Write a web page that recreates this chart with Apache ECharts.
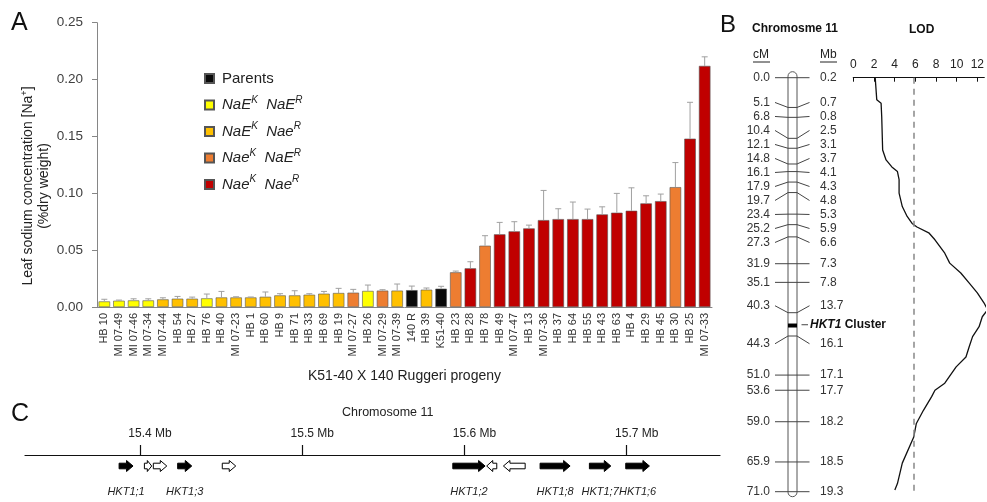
<!DOCTYPE html>
<html><head><meta charset="utf-8">
<script src="https://cdn.jsdelivr.net/npm/echarts@6/dist/echarts.min.js"></script>
<style>html,body{margin:0;padding:0;background:#fff}#c{width:987px;height:502px}</style>
</head><body><div id="c"></div>
<script>
// ---------- Panel A data ----------
const lines = ['HB 10','MI 07-49','MI 07-46','MI 07-34','MI 07-44','HB 54','HB 27','HB 76','HB 40','MI 07-23','HB 1','HB 60','HB 9','HB 71','HB 33','HB 69','HB 19','MI 07-27','HB 26','MI 07-29','MI 07-39','140 R','HB 39','K51-40','HB 23','HB 28','HB 78','HB 49','MI 07-47','HB 13','MI 07-36','HB 37','HB 64','HB 55','HB 43','HB 63','HB 4','HB 29','HB 45','HB 30','HB 25','MI 07-33'];
const sodium = [0.0049,0.0055,0.0058,0.0058,0.0067,0.0073,0.0073,0.0076,0.0084,0.0084,0.0084,0.0090,0.0102,0.0102,0.0108,0.0117,0.0123,0.0126,0.0141,0.0144,0.0144,0.0148,0.0152,0.0161,0.0305,0.0340,0.0539,0.0639,0.0665,0.0691,0.0764,0.0773,0.0773,0.0773,0.0814,0.0829,0.0846,0.0911,0.0931,0.1054,0.1480,0.2120];
const sodiumErr = [0.0019,0.0006,0.0014,0.0014,0.0014,0.0020,0.0014,0.0038,0.0053,0.0006,0.0004,0.0042,0.0015,0.0041,0.0009,0.0020,0.0041,0.0029,0.0052,0.0008,0.0058,0.0036,0.0015,0.0021,0.0011,0.0058,0.0088,0.0105,0.0085,0.0029,0.0261,0.0091,0.0150,0.0088,0.0067,0.0170,0.0202,0.0067,0.0062,0.0216,0.0320,0.0080];
// genotype group per line: 0 Parents, 1 NaE/NaE, 2 NaE/Nae, 3 Nae/NaE, 4 Nae/Nae
const genotype = [1,1,1,1,2,2,2,1,2,2,2,2,2,2,2,2,2,3,1,3,2,0,2,0,3,4,3,4,4,4,4,4,4,4,4,4,4,4,4,3,4,4];
const groupNames = ['Parents','NaE/NaE','NaE/Nae','Nae/NaE','Nae/Nae'];
const groupLabels = ['{n|Parents}','{i|NaE}{s|K}{i|  NaE}{s|R}','{i|NaE}{s|K}{i|  Nae}{s|R}','{i|Nae}{s|K}{i|  NaE}{s|R}','{i|Nae}{s|K}{i|  Nae}{s|R}'];
const groupColors = ['#0a0a0a','#ffff00','#ffc000','#ed7d31','#c00000'];
const yTicksA = [0, 0.25, 0.05];

// ---------- Panel B data ----------
const markerCM = [0.0,5.1,6.8,10.4,12.1,14.8,16.1,17.9,19.7,23.4,25.2,27.3,31.9,35.1,40.3,44.3,51.0,53.6,59.0,65.9,71.0];
const markerMb = ['0.2','0.7','0.8','2.5','3.1','3.7','4.1','4.3','4.8','5.3','5.9','6.6','7.3','7.8','13.7','16.1','17.1','17.7','18.2','18.5','19.3'];
const hktClusterCM = 42.5;
const lodCM = [0,3.8,4.4,6.7,12.4,14.1,15.3,16.1,17.5,19.8,22.1,23.8,25.0,25.6,26.6,27.8,30.1,31.8,33.5,35.2,36.9,38.6,39.8,41.0,42.7,44.4,46.1,47.9,49.6,52.4,53.6,54.7,57.0,59.3,61.6,66.1,69.6,70.7];
const lodValue = [2.12,2.27,2.69,2.75,2.84,3.17,3.73,4.27,4.43,4.43,4.74,5.21,5.69,6.16,7.3,7.9,8.85,9.33,10.4,11.2,12.0,12.64,13.0,12.48,12.17,11.54,11.22,10.9,9.95,8.85,7.9,7.58,6.8,6.1,5.85,4.74,4.27,4.02];
const lodThreshold = 5.85;
const lodTicks = [0, 12.67, 2];

// ---------- Panel C data ----------
const geneStart = [15.3871,15.4027,15.4082,15.4232,15.4507,15.5928,15.6137,15.6240,15.6466,15.6770,15.6994];
const geneEnd   = [15.3957,15.4072,15.4165,15.4319,15.4590,15.6127,15.6199,15.6374,15.6651,15.6902,15.7140];
const geneStrand = [1,1,1,1,1,1,-1,-1,1,1,1];
const geneIsHKT = [1,0,0,1,0,1,0,0,1,1,1];
const geneNames = ['HKT1;1','','','HKT1;3','','HKT1;2','','','HKT1;8','HKT1;7','HKT1;6'];
const mbTicks = [15.4,15.5,15.6,15.7];
const mbRange = [15.3291, 15.7575];

// ---------- layout ----------
const FF = '"Liberation Sans", Arial, sans-serif';
const chart = echarts.init(document.getElementById('c'), null, {renderer:'canvas'});

const bGrid = {left:853.3, top:77.7, width:133.7, height:414};
const pxPerCM = bGrid.height / 71;
const items = [];
markerCM.forEach((c,i)=>{ items.push({cM:c, left:c.toFixed(1), right:markerMb[i], hkt:false}); if (i===14) items.push({cM:hktClusterCM, hkt:true}); });
const gaps = items.slice(0,-1).map((it,k)=> (it.hkt||items[k+1].hkt) ? 19/pxPerCM : 14/pxPerCM);
function spread(pos){
  function lay(c){ const offs=[0]; for(let k=c.i0;k<c.i1;k++) offs.push(offs[offs.length-1]+gaps[k]);
    let mt=0, mo=0; for(let k=c.i0;k<=c.i1;k++){ mt+=pos[k]; mo+=offs[k-c.i0]; }
    const n=c.i1-c.i0+1; c.top=mt/n-mo/n; c.offs=offs; return c; }
  let cl = pos.map((p,i)=>lay({i0:i,i1:i}));
  let merged=true;
  while(merged){ merged=false;
    for(let j=0;j<cl.length-1;j++){ const a=cl[j], b=cl[j+1];
      if (b.top - (a.top + a.offs[a.offs.length-1]) < gaps[a.i1]-1e-9){ cl.splice(j,2,lay({i0:a.i0,i1:b.i1})); merged=true; break; } } }
  const out=[]; cl.forEach(c=>{ for(let k=c.i0;k<=c.i1;k++) out[k]=c.top+c.offs[k-c.i0]; }); return out;
}
const labelCM = spread(items.map(it=>it.cM));

const ROD_L = 788, ROD_R = 797;

const barSeries = groupNames.map((g,gi)=>({
  type:'bar', name:g, stack:'all', xAxisIndex:0, yAxisIndex:0, barWidth:11.5,
  data: sodium.map((v,i)=> genotype[i]===gi ? v : '-'),
  itemStyle:{color:groupColors[gi], borderColor:'#555', borderWidth:0.6},
  silent:true
}));

const option = {
  animation:false,
  textStyle:{fontFamily:FF},
  legend:{
    data:groupNames, orient:'vertical', left:199, top:66, itemWidth:9, itemHeight:9, itemGap:9,
    icon:'rect', selectedMode:false,
    formatter: name => groupLabels[groupNames.indexOf(name)],
    textStyle:{fontFamily:FF, color:'#222', fontSize:15, padding:[0,0,0,3],
      rich:{ n:{fontSize:15, lineHeight:20, color:'#222', fontFamily:FF},
             i:{fontSize:15, lineHeight:20, fontStyle:'italic', color:'#222', fontFamily:FF},
             s:{fontSize:10, fontStyle:'italic', verticalAlign:'top', color:'#222', fontFamily:FF} } }
  },
  grid:[
    {left:97, top:22.7, width:615, height:284.3},
    bGrid,
    {left:25, top:455, width:695, height:40}
  ],
  xAxis:[
    {type:'category', gridIndex:0, data:lines, axisLine:{lineStyle:{color:'#868686'}}, axisTick:{show:false},
     axisLabel:{interval:0, rotate:90, fontSize:11, color:'#333', margin:6, fontFamily:FF},
     name:'K51-40 X 140 Ruggeri progeny', nameLocation:'middle', nameGap:62,
     nameTextStyle:{fontSize:14, color:'#222', fontFamily:FF}},
    {type:'value', gridIndex:1, position:'top', min:lodTicks[0], max:lodTicks[1], interval:lodTicks[2],
     axisLine:{onZero:false, lineStyle:{color:'#111', width:1.2}}, axisTick:{inside:true, length:4, lineStyle:{color:'#111'}},
     axisLabel:{fontSize:12, color:'#222', margin:7, fontFamily:FF, showMaxLabel:false}, splitLine:{show:false}},
    {type:'value', gridIndex:2, position:'top', min:mbRange[0], max:mbRange[1],
     axisLine:{onZero:false, lineStyle:{color:'#111', width:1.2}},
     axisTick:{customValues:mbTicks, length:10, lineStyle:{color:'#111', width:1.2}},
     axisLabel:{customValues:mbTicks, formatter:v=>v.toFixed(1)+' Mb', fontSize:12, color:'#222', margin:15, padding:[0,0,0,20], fontFamily:FF},
     splitLine:{show:false}}
  ],
  yAxis:[
    {type:'value', gridIndex:0, min:yTicksA[0], max:yTicksA[1], interval:yTicksA[2],
     axisLine:{show:true, lineStyle:{color:'#868686'}}, axisTick:{show:true, length:5, lineStyle:{color:'#868686'}},
     axisLabel:{formatter:v=>v.toFixed(2), fontSize:13.5, color:'#404040', margin:14, fontFamily:FF}, splitLine:{show:false}},
    {type:'value', gridIndex:1, min:0, max:71, inverse:true, show:false},
    {type:'value', gridIndex:2, min:0, max:1, show:false}
  ],
  series:[
    ...barSeries,
    {type:'custom', xAxisIndex:0, yAxisIndex:0, silent:true, z:5,
     data: sodium.map((v,i)=>[i, v, sodiumErr[i]]),
     renderItem:(p,api)=>{
       const a = api.coord([api.value(0), api.value(1)]);
       const b = api.coord([api.value(0), api.value(1)+api.value(2)]);
       const st = {stroke:'#a0a0a0', lineWidth:1};
       return {type:'group', children:[
         {type:'line', shape:{x1:a[0], y1:a[1], x2:b[0], y2:b[1]}, style:st},
         {type:'line', shape:{x1:b[0]-3, y1:b[1], x2:b[0]+3, y2:b[1]}, style:st}
       ]};
     }},
    {type:'line', xAxisIndex:1, yAxisIndex:1, data: lodCM.map((c,i)=>[lodValue[i], c]),
     showSymbol:false, symbol:'none', lineStyle:{color:'#111', width:1.3}, silent:true,
     markLine:{silent:true, symbol:'none', label:{show:false},
       lineStyle:{type:[6,5], color:'#888', width:1.5}, data:[{xAxis:lodThreshold}]}},
    {type:'custom', xAxisIndex:1, yAxisIndex:1, silent:true, z:1, data:[[0,0]], clip:false,
     renderItem:(p,api)=>{
       const y0 = api.coord([0,0])[1]-6, y1 = api.coord([0,71])[1]+5;
       const yb = api.coord([0,hktClusterCM])[1];
       return {type:'group', children:[
         {type:'rect', shape:{x:ROD_L, y:y0, width:ROD_R-ROD_L, height:y1-y0, r:4.5}, style:{fill:'#fff', stroke:'#555', lineWidth:1}},
         {type:'rect', shape:{x:ROD_L, y:yb-2, width:ROD_R-ROD_L, height:4}, style:{fill:'#000'}}
       ]};
     }},
    {type:'custom', xAxisIndex:1, yAxisIndex:1, silent:true, z:3, clip:false,
     data: items.map((it,i)=>[0, it.cM, labelCM[i], i]),
     renderItem:(p,api)=>{
       const it = items[api.value(3)];
       const yT = api.coord([0, api.value(1)])[1];
       const yL = api.coord([0, api.value(2)])[1];
       const st = {stroke:'#444', lineWidth:1, fill:null};
       if (it.hkt){
         return {type:'group', children:[
           {type:'line', shape:{x1:ROD_R+4.5, y1:yL, x2:ROD_R+11, y2:yL}, style:st},
           {type:'text', x:ROD_R+13, y:yL, style:{text:'{bi|HKT1}{b| Cluster}', textAlign:'left', textVerticalAlign:'middle',
             rich:{bi:{fontSize:12, fontWeight:'bold', fontStyle:'italic', fontFamily:FF, fill:'#111'}, b:{fontSize:12, fontWeight:'bold', fontFamily:FF, fill:'#111'}}}}
         ]};
       }
       return {type:'group', children:[
         {type:'polyline', shape:{points:[[775,yL],[ROD_L,yT],[ROD_R,yT],[809.5,yL]]}, style:st},
         {type:'text', x:770, y:yL, style:{text:it.left, textAlign:'right', textVerticalAlign:'middle', fontSize:12, fontFamily:FF, fill:'#333'}},
         {type:'text', x:820, y:yL, style:{text:it.right, textAlign:'left', textVerticalAlign:'middle', fontSize:12, fontFamily:FF, fill:'#333'}}
       ]};
     }},
    {type:'custom', xAxisIndex:2, yAxisIndex:2, silent:true, clip:false,
     data: geneStart.map((s,i)=>[s, geneEnd[i], geneStrand[i], geneIsHKT[i], i]),
     renderItem:(p,api)=>{
       const x0 = api.coord([api.value(0),0])[0], x1 = api.coord([api.value(1),0])[0];
       const y = p.coordSys.y + 11, bh = 2.8, hh = 5.5;
       const len = x1-x0, hl = Math.min(6.5, len*0.6);
       let pts;
       if (api.value(2) > 0) pts = [[x0,y-bh],[x1-hl,y-bh],[x1-hl,y-hh],[x1,y],[x1-hl,y+hh],[x1-hl,y+bh],[x0,y+bh]];
       else pts = [[x1,y-bh],[x0+hl,y-bh],[x0+hl,y-hh],[x0,y],[x0+hl,y+hh],[x0+hl,y+bh],[x1,y+bh]];
       const filled = api.value(3) === 1;
       const ch = [{type:'polygon', shape:{points:pts}, style:{fill: filled ? '#000' : '#fff', stroke:'#000', lineWidth:1}}];
       const nm = geneNames[api.value(4)];
       if (nm) ch.push({type:'text', x:(x0+x1)/2, y:p.coordSys.y+37, style:{text:nm, textAlign:'center', textVerticalAlign:'middle', fontSize:11, fontStyle:'italic', fontFamily:FF, fill:'#222'}});
       return {type:'group', children:ch};
     }}
  ],
  graphic:[
    {type:'text', left:11, top:11, style:{text:'A', fontSize:25, fontFamily:FF, fill:'#111'}},
    {type:'text', left:720, top:13, style:{text:'B', fontSize:24, fontFamily:FF, fill:'#111'}},
    {type:'text', left:11, top:402, style:{text:'C', fontSize:25, fontFamily:FF, fill:'#111'}},
    {type:'text', x:36, y:186, rotation:Math.PI/2,
     style:{text:'{a|Leaf sodium concentration [Na}{s|+}{a|]}\n{a|(%dry weight)}', textAlign:'center', textVerticalAlign:'middle',
       rich:{a:{fontSize:14, lineHeight:16, fontFamily:FF, fill:'#222'}, s:{fontSize:9, verticalAlign:'top', fontFamily:FF, fill:'#222'}}}},
    {type:'text', x:752, y:29, style:{text:'Chromosme 11', fontSize:12, fontWeight:'bold', fontFamily:FF, fill:'#111', textVerticalAlign:'middle'}},
    {type:'text', x:909, y:30, style:{text:'LOD', fontSize:12, fontWeight:'bold', fontFamily:FF, fill:'#111', textVerticalAlign:'middle'}},
    {type:'text', x:753, y:55, style:{text:'cM', fontSize:12, fontFamily:FF, fill:'#222', textVerticalAlign:'middle'}},
    {type:'line', shape:{x1:753, y1:62, x2:770, y2:62}, style:{stroke:'#222', lineWidth:1}},
    {type:'text', x:820, y:55, style:{text:'Mb', fontSize:12, fontFamily:FF, fill:'#222', textVerticalAlign:'middle'}},
    {type:'line', shape:{x1:820, y1:62, x2:837, y2:62}, style:{stroke:'#222', lineWidth:1}},
    {type:'text', x:342, y:413, style:{text:'Chromosome 11', fontSize:12.5, fontFamily:FF, fill:'#222', textVerticalAlign:'middle'}}
  ]
};
chart.setOption(option);
</script>
</body></html>
